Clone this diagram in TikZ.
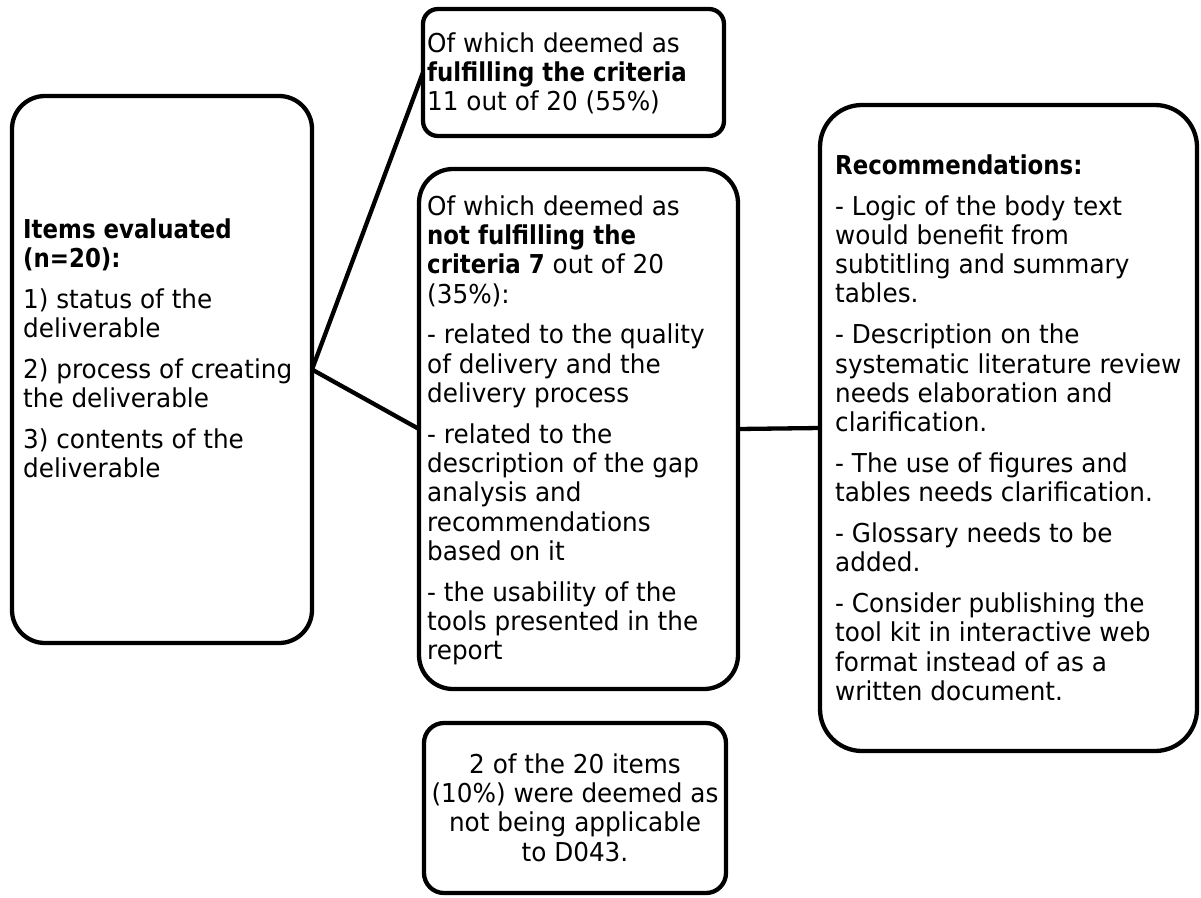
\documentclass[tikz,border=0pt]{standalone}
\usepackage{fontspec}
\setmainfont{DejaVu Sans}[UprightFeatures={FakeStretch=0.95}, BoldFeatures={FakeStretch=0.88}]
\newcommand\boxfont{\fontsize{26}{29.3}\selectfont}
\begin{document}
\begin{tikzpicture}[x=1pt,y=-1pt,
  boxshape/.style={draw=black, line width=4.3pt, rounded corners=#1, fill=white,
    inner sep=0pt, outer sep=0pt},
  connector/.style={draw=black, line width=4.3pt},
  boxtext/.style={inner sep=0pt, font=\boxfont, align=left, anchor=north west},
  centertext/.style={inner sep=0pt, font=\boxfont, align=center, anchor=north}]
\useasboundingbox (0,0) rectangle (1201,897);

% boxes
\node[boxshape=33pt, minimum width=300pt, minimum height=547pt] (left) at (162,369.5) {};
\node[boxshape=15pt, minimum width=301pt, minimum height=127pt] (top) at (573.5,72.5) {};
\node[boxshape=34pt, minimum width=319pt, minimum height=520pt] (middle) at (578.5,429) {};
\node[boxshape=42pt, minimum width=377pt, minimum height=646pt] (right) at (1008.5,428) {};
\node[boxshape=20pt, minimum width=302pt, minimum height=170pt] (bottom) at (575,808) {};

% connectors
\draw[connector] (left.east) -- (top.west);
\draw[connector] (left.east) -- (middle.west);
\draw[connector] (middle.east) -- (right.west);

% texts
\node[boxtext] (lefttext) at (23,217.5) {\strut\textbf{Items evaluated}\\
  \textbf{(n=20):}\\[11.5pt]
  1) status of the\\ deliverable\\[11.5pt]
  2) process of creating\\ the deliverable\\[11.5pt]
  3) contents of the\\ deliverable};

\node[boxtext] (toptext) at (427,31.5) {\strut Of which deemed as\\
  \textbf{fulfilling the criteria}\\
  11 out of 20 (55\%)};

\node[boxtext] (midtext) at (427,194.5) {\strut Of which deemed as\\
  \textbf{not fulfilling the}\\
  \textbf{criteria 7} out of 20\\
  (35\%):\\[11.5pt]
  - related to the quality\\ of delivery and the\\ delivery process\\[11.5pt]
  - related to the\\ description of the gap\\ analysis and\\ recommendations\\ based on it\\[11.5pt]
  - the usability of the\\ tools presented in the\\ report};

\node[boxtext] (righttext) at (835,153.5) {\strut\textbf{Recommendations:}\\[11.5pt]
  - Logic of the body text\\ would benefit from\\ subtitling and summary\\ tables.\\[11.5pt]
  - Description on the\\ systematic literature review\\ needs elaboration and\\ clarification.\\[11.5pt]
  - The use of figures and\\ tables needs clarification.\\[11.5pt]
  - Glossary needs to be\\ added.\\[11.5pt]
  - Consider publishing the\\ tool kit in interactive web\\ format instead of as a\\ written document.};

\node[centertext] (bottomtext) at (575,752.5) {\strut 2 of the 20 items\\
  (10\%) were deemed as\\
  not being applicable\\
  to D043.};
\end{tikzpicture}
\end{document}
